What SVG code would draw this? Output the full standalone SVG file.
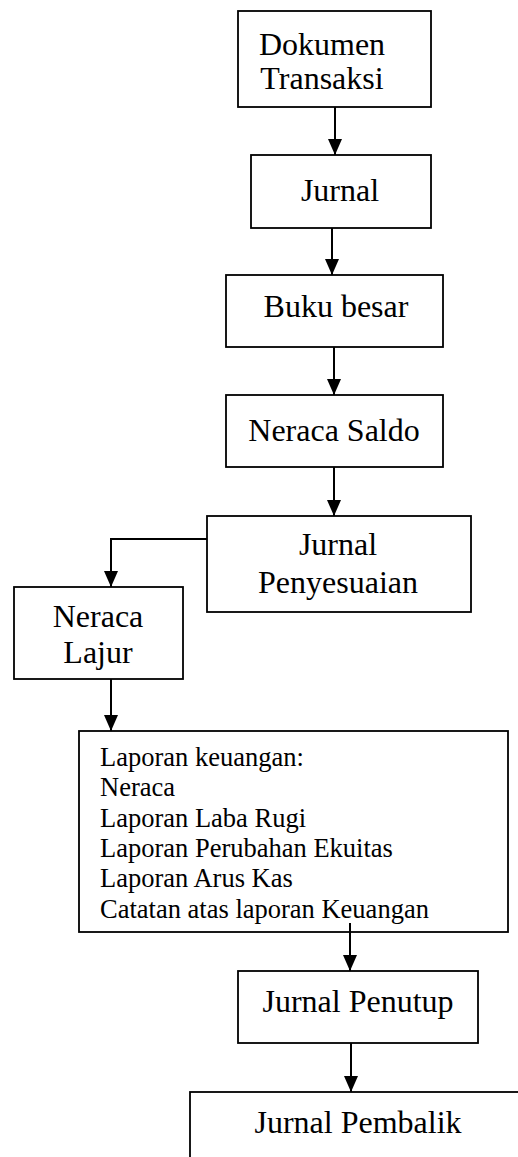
<svg xmlns="http://www.w3.org/2000/svg" width="518" height="1157" viewBox="0 0 518 1157">
<defs>
<marker id="ah" markerUnits="userSpaceOnUse" markerWidth="16" markerHeight="16" viewBox="0 0 16 14" refX="16" refY="7" orient="auto">
<path d="M0,0 L16,7 L0,14 Z" fill="#000"/>
</marker>
</defs>
<style>
.box{fill:#fff;stroke:#000;stroke-width:1.8}
.lbl{font-family:"Liberation Serif","Times New Roman",serif;font-size:32px;fill:#000;text-anchor:middle}
.lst{font-family:"Liberation Serif","Times New Roman",serif;font-size:26.5px;fill:#000}
.con{fill:none;stroke:#000;stroke-width:2;marker-end:url(#ah)}
</style>
<rect width="518" height="1157" fill="#fff"/>
<g id="n1"><rect class="box" x="238" y="11" width="193" height="96"/>
<text class="lbl" x="322" y="55">Dokumen</text>
<text class="lbl" x="322" y="89">Transaksi</text></g>
<g id="n2"><rect class="box" x="251" y="155" width="180" height="73"/>
<text class="lbl" x="340" y="201">Jurnal</text></g>
<g id="n3"><rect class="box" x="226" y="275" width="217" height="72"/>
<text class="lbl" x="336" y="317">Buku besar</text></g>
<g id="n4"><rect class="box" x="226" y="395" width="217" height="72"/>
<text class="lbl" x="334" y="441">Neraca Saldo</text></g>
<g id="n5"><rect class="box" x="207" y="516" width="264" height="96"/>
<text class="lbl" x="338" y="555">Jurnal</text>
<text class="lbl" x="338" y="593">Penyesuaian</text></g>
<g id="n6"><rect class="box" x="14" y="587" width="169" height="92"/>
<text class="lbl" x="98" y="627">Neraca</text>
<text class="lbl" x="98" y="663">Lajur</text></g>
<g id="n7"><rect class="box" x="79" y="731" width="429" height="201"/>
<text class="lst" x="100" y="766">Laporan keuangan:</text>
<text class="lst" x="100" y="796">Neraca</text>
<text class="lst" x="100" y="827">Laporan Laba Rugi</text>
<text class="lst" x="100" y="857">Laporan Perubahan Ekuitas</text>
<text class="lst" x="100" y="887">Laporan Arus Kas</text>
<text class="lst" x="100" y="918">Catatan atas laporan Keuangan</text></g>
<g id="n8"><rect class="box" x="238" y="971" width="240" height="72"/>
<text class="lbl" x="358" y="1012">Jurnal Penutup</text></g>
<g id="n9"><rect class="box" x="190" y="1092" width="340" height="90"/>
<text class="lbl" x="358" y="1133">Jurnal Pembalik</text></g>
<g id="connectors">
<path class="con" d="M335,107 V155"/>
<path class="con" d="M332,228 V275"/>
<path class="con" d="M334,347 V395"/>
<path class="con" d="M334,467 V516"/>
<path class="con" d="M207,539 H111 V587"/>
<path class="con" d="M111,679 V731"/>
<path class="con" d="M350,923 V971"/>
<path class="con" d="M351,1043 V1092"/>
</g>
</svg>
